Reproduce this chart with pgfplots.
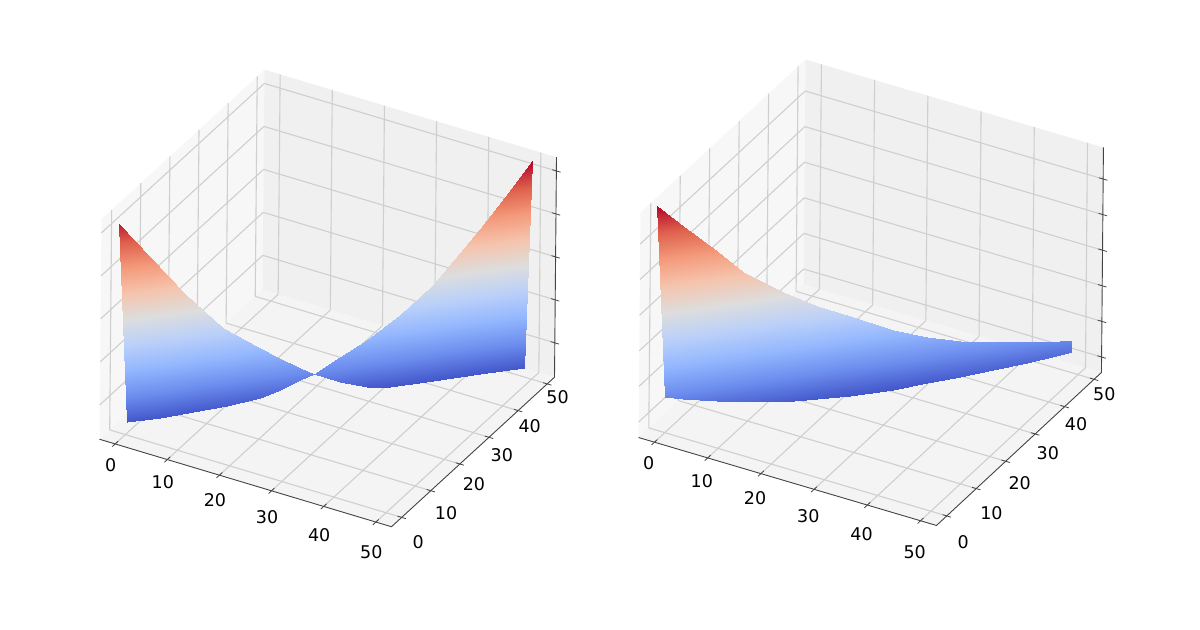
\documentclass[border=0pt]{standalone}
\usepackage{fontspec}
\setmainfont{DejaVu Sans}
\usepackage{pgfplots}
\pgfplotsset{compat=1.18}
\definecolor{paneL}{HTML}{F7F7F7}
\definecolor{paneR}{HTML}{F0F0F0}
\definecolor{paneF}{HTML}{F4F4F4}
\definecolor{gridc}{HTML}{CFCFCF}
\definecolor{axc}{HTML}{444444}
\pgfplotsset{
  colormap={cw}{rgb255(0)=(66,86,202) rgb255(1)=(108,141,238) rgb255(2)=(147,182,254) rgb255(3)=(186,208,249) rgb255(4)=(221,221,221) rgb255(5)=(245,196,173) rgb255(6)=(244,154,123) rgb255(7)=(222,96,77) rgb255(8)=(180,4,38)},
  mpl3d/.style={
    clip=false,
    xmin=-3,xmax=53,ymin=-3.5,ymax=52.5,
    axis line style={draw=none},
  },
  mplticks/.style={
    xtick={0,10,20,30,40,50}, ytick={0,10,20,30,40,50},
    zticklabels={}, ztick pos=right, xtick pos=left, ytick pos=left,
    grid=major, major grid style={gridc,line width=1.1bp},
    major tick length=0pt,
    tick style={draw=none},
    tick label style={font=\fontsize{17.5bp}{20bp}\selectfont,black},
    /pgf/number format/assume math mode=true,
    yticklabel={\smash{\raisebox{\dimexpr-12.4bp+2.4bp*\ticknum\relax}{\makebox[0pt][c]{\hspace*{\dimexpr6.25bp-2.5bp*\ticknum\relax}\pgfmathprintnumber{\tick}}}}},
  },
  mplwalls/.style={xtick=\empty,ytick=\empty,ztick=\empty},
  wall/.style={draw=none,mark=none},
  edge/.style={axc,line width=0.9bp,mark=none},
  tickmark/.style={axc,line width=0.8bp,mark=none,unbounded coords=jump},
}
\begin{document}
\begin{tikzpicture}
\path (0,0) rectangle (1200bp,630bp);
\begin{axis}[mpl3d,mplwalls,
  at={(125.64bp,229.79bp)},anchor=origin,
  x={(5.214bp,-1.5625bp)},y={(2.911bp,2.670bp)},z={(0.0156bp,1.719bp)},
  zmin=-20,zmax=108]
\addplot3[wall,fill=paneL] coordinates {(-3,-3.5,-20)(-3,52.5,-20)(-3,52.5,108)(-3,-3.5,108)(-3,-3.5,-20)};
\addplot3[wall,fill=paneR] coordinates {(-3,52.5,-20)(53,52.5,-20)(53,52.5,108)(-3,52.5,108)(-3,52.5,-20)};
\addplot3[wall,fill=paneF] coordinates {(-3,-3.5,-20)(53,-3.5,-20)(53,52.5,-20)(-3,52.5,-20)(-3,-3.5,-20)};
\end{axis}
\begin{axis}[mpl3d,mplticks,
  at={(125.64bp,229.79bp)},anchor=origin,
  x={(5.214bp,-1.5625bp)},y={(2.911bp,2.670bp)},z={(0.0156bp,1.719bp)},
  zmin=-20,zmax=108,ztick={0,25,50,75,100},
  xticklabel={\smash{\raisebox{\dimexpr-1.9bp-1.8bp*\ticknum\relax}{\pgfmathprintnumber{\tick}}}},
  xticklabel style={anchor=center,xshift=-4.5bp,yshift=-25.5bp},
  yticklabel style={anchor=center,xshift=13.4bp,yshift=-19.1bp}]
\addplot3[surf,shader=interp,mesh/rows=15,mesh/cols=2,point meta=z,point meta min=-13.2,point meta max=107] coordinates {
(0.23,0.23,-13.0) (-0.98,-0.98,103.0)
(4.25,4.25,-12.9) (2.84,2.84,81.5)
(8.31,8.31,-12.4) (7.20,7.20,57.3)
(12.46,12.46,-11.4) (11.92,11.92,34.3)
(16.55,16.55,-9.5) (16.25,16.25,20.3)
(19.01,19.01,-6.3) (18.85,18.85,12.4)
(21.46,21.46,-2.1) (21.45,21.45,4.7)
(23.18,23.18,0.3) (23.18,23.18,0.3)
(26.39,26.39,-6.2) (26.37,26.37,8.0)
(29.69,29.69,-11.6) (29.64,29.64,15.9)
(32.56,32.56,-13.1) (33.72,33.72,27.8)
(37.89,37.89,-13.2) (37.79,37.79,42.7)
(43.64,43.64,-13.0) (43.47,43.47,71.4)
(46.34,46.34,-12.9) (46.52,46.52,88.4)
(49.05,49.05,-12.7) (49.85,49.85,107.0)
};
\addplot3[edge] coordinates {(-3,-3.5,-20)(53,-3.5,-20)(53,52.5,-20)(53,52.5,108)};
\addplot3[tickmark] coordinates {
(0,-4.5,-20)(0,-2.5,-20)(0,0,nan)(10,-4.5,-20)(10,-2.5,-20)(0,0,nan)(20,-4.5,-20)(20,-2.5,-20)(0,0,nan)(30,-4.5,-20)(30,-2.5,-20)(0,0,nan)(40,-4.5,-20)(40,-2.5,-20)(0,0,nan)(50,-4.5,-20)(50,-2.5,-20)(0,0,nan)
(52.2,0,-20)(53.8,0,-20)(0,0,nan)(52.2,10,-20)(53.8,10,-20)(0,0,nan)(52.2,20,-20)(53.8,20,-20)(0,0,nan)(52.2,30,-20)(53.8,30,-20)(0,0,nan)(52.2,40,-20)(53.8,40,-20)(0,0,nan)(52.2,50,-20)(53.8,50,-20)(0,0,nan)
(52.2,52.5,0)(53.8,52.5,0)(0,0,nan)(52.2,52.5,25)(53.8,52.5,25)(0,0,nan)(52.2,52.5,50)(53.8,52.5,50)(0,0,nan)(52.2,52.5,75)(53.8,52.5,75)(0,0,nan)(52.2,52.5,100)(53.8,52.5,100)
};
\end{axis}
\begin{axis}[mpl3d,mplwalls,
  at={(664.91bp,212.84bp)},anchor=origin,
  x={(5.321bp,-1.571bp)},y={(2.946bp,2.732bp)},z={(0.0158bp,1.78bp)},
  zmin=-8.7,zmax=117.7]
\addplot3[wall,fill=paneL] coordinates {(-3,-3.5,-8.7)(-3,52.5,-8.7)(-3,52.5,117.7)(-3,-3.5,117.7)(-3,-3.5,-8.7)};
\addplot3[wall,fill=paneR] coordinates {(-3,52.5,-8.7)(53,52.5,-8.7)(53,52.5,117.7)(-3,52.5,117.7)(-3,52.5,-8.7)};
\addplot3[wall,fill=paneF] coordinates {(-3,-3.5,-8.7)(53,-3.5,-8.7)(53,52.5,-8.7)(-3,52.5,-8.7)(-3,-3.5,-8.7)};
\end{axis}
\begin{axis}[mpl3d,mplticks,
  at={(664.91bp,212.84bp)},anchor=origin,
  x={(5.321bp,-1.571bp)},y={(2.946bp,2.732bp)},z={(0.0158bp,1.78bp)},
  zmin=-8.7,zmax=117.7,ztick={0,20,40,60,80,100},
  xticklabel={\smash{\raisebox{\dimexpr-1.15bp-2.1bp*\ticknum\relax}{\pgfmathprintnumber{\tick}}}},
  xticklabel style={anchor=center,xshift=-5.8bp,yshift=-25.9bp},
  yticklabel style={anchor=center,xshift=13.3bp,yshift=-20.6bp}]
\addplot3[surf,shader=interp,mesh/rows=14,mesh/cols=2,point meta=z,point meta min=-2.7,point meta max=119.6] coordinates {
(0.03,0.03,11.2) (-1.15,-1.15,119.6)
(2.21,2.21,8.8) (2.02,2.02,106.2)
(6.25,6.25,5.0) (6.09,6.09,89.4)
(9.48,9.48,2.4) (9.34,9.34,75.6)
(14.32,14.32,-0.7) (14.20,14.20,60.9)
(18.36,18.36,-1.9) (18.26,18.26,50.8)
(22.39,22.39,-2.7) (22.31,22.31,42.3)
(27.60,27.60,-2.7) (27.53,27.53,31.0)
(31.67,31.67,-1.6) (31.62,31.62,24.6)
(35.69,35.69,-0.55) (35.65,35.65,19.7)
(39.69,39.69,0.6) (39.66,39.66,16.5)
(43.76,43.76,1.7) (43.73,43.73,13.9)
(47.78,47.78,3.8) (47.77,47.77,11.4)
(49.20,49.20,4.7) (49.19,49.19,10.5)
};
\addplot3[edge] coordinates {(-3,-3.5,-8.7)(53,-3.5,-8.7)(53,52.5,-8.7)(53,52.5,117.7)};
\addplot3[tickmark] coordinates {
(0,-4.5,-8.7)(0,-2.5,-8.7)(0,0,nan)(10,-4.5,-8.7)(10,-2.5,-8.7)(0,0,nan)(20,-4.5,-8.7)(20,-2.5,-8.7)(0,0,nan)(30,-4.5,-8.7)(30,-2.5,-8.7)(0,0,nan)(40,-4.5,-8.7)(40,-2.5,-8.7)(0,0,nan)(50,-4.5,-8.7)(50,-2.5,-8.7)(0,0,nan)
(52.2,0,-8.7)(53.8,0,-8.7)(0,0,nan)(52.2,10,-8.7)(53.8,10,-8.7)(0,0,nan)(52.2,20,-8.7)(53.8,20,-8.7)(0,0,nan)(52.2,30,-8.7)(53.8,30,-8.7)(0,0,nan)(52.2,40,-8.7)(53.8,40,-8.7)(0,0,nan)(52.2,50,-8.7)(53.8,50,-8.7)(0,0,nan)
(52.2,52.5,0)(53.8,52.5,0)(0,0,nan)(52.2,52.5,20)(53.8,52.5,20)(0,0,nan)(52.2,52.5,40)(53.8,52.5,40)(0,0,nan)(52.2,52.5,60)(53.8,52.5,60)(0,0,nan)(52.2,52.5,80)(53.8,52.5,80)(0,0,nan)(52.2,52.5,100)(53.8,52.5,100)
};
\end{axis}
\end{tikzpicture}
\end{document}
